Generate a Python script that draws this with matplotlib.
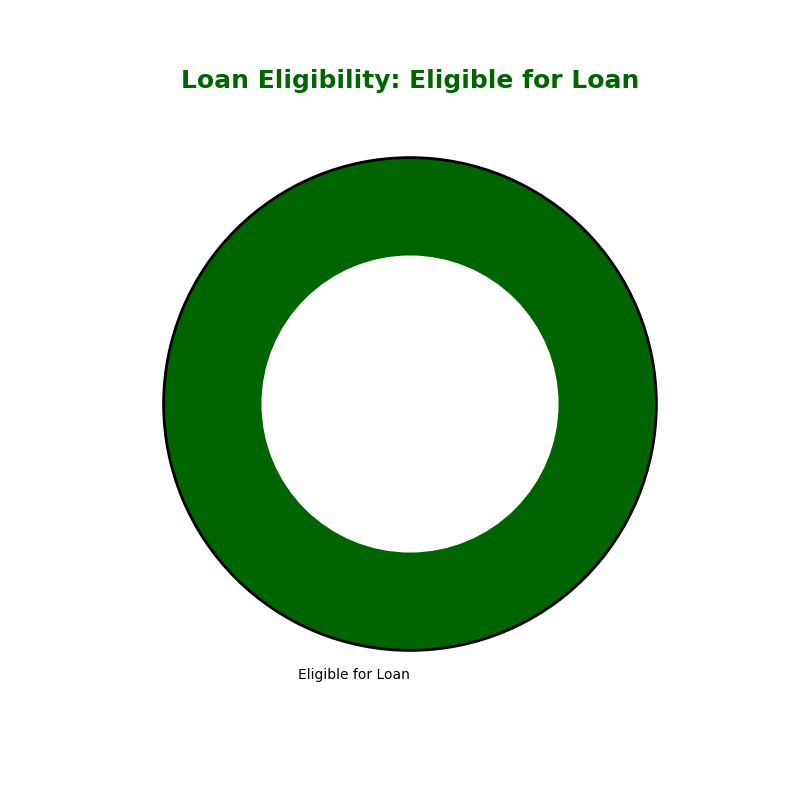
import matplotlib
matplotlib.use("Agg")
import matplotlib.pyplot as plt

labels = ["Eligible for Loan"]
values = [100]
colors = ["#006400"]

fig, ax = plt.subplots(figsize=(8, 8), dpi=100)
wedges, texts = ax.pie(values, labels=labels, colors=colors, startangle=90,
                       wedgeprops=dict(edgecolor="black", linewidth=2))
for t in texts:
    t.set_horizontalalignment("right")
centre = plt.Circle((0, 0), 0.6, facecolor="white", edgecolor="white")
ax.add_artist(centre)
ax.set_title("Loan Eligibility: Eligible for Loan", fontsize=18,
             fontweight="bold", color="#006400")
fig.savefig("out.png", dpi=100)
